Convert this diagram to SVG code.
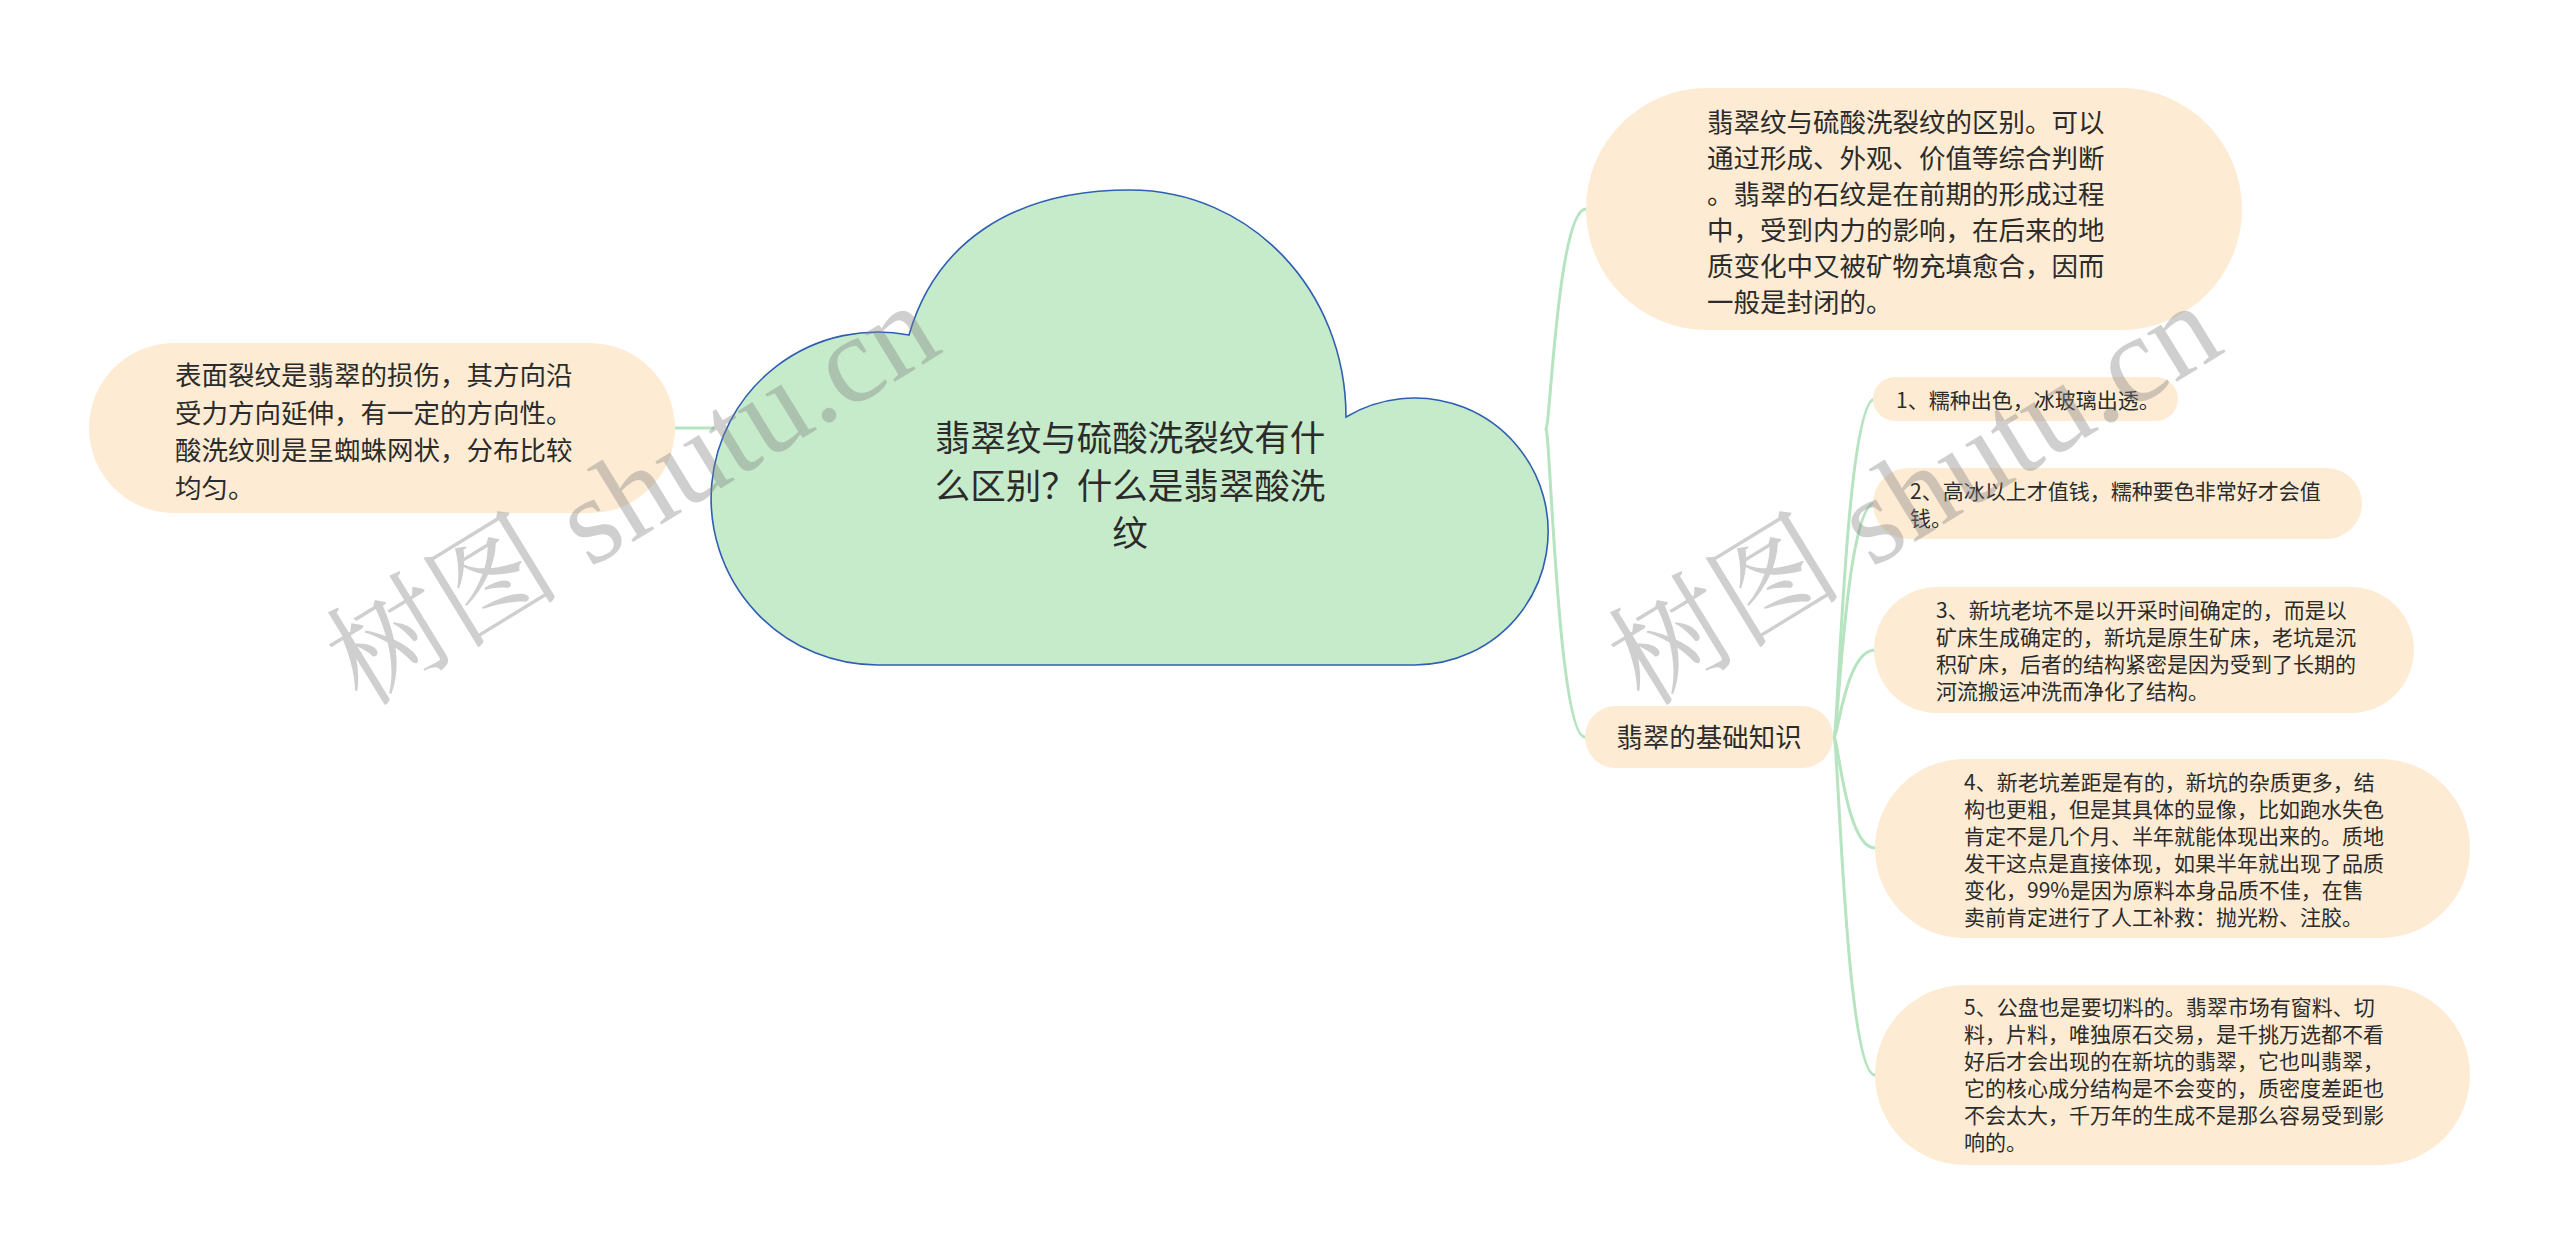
<svg xmlns="http://www.w3.org/2000/svg" width="2560" height="1255" viewBox="0 0 2560 1255">
<style>
.bg{fill:#ffffff}
.node{fill:#fdebd3}
.cloud{fill:#c6ebcb;stroke:#2f5fb3;stroke-width:1.6}
.t{font-family:"Noto Sans CJK SC","Noto Sans",sans-serif;fill:#2b2b2b}
.big{font-size:26.5px}
.small{font-size:21px}
.title{font-size:35.5px;text-anchor:middle}
.edge{fill:none;stroke:#b6e3c0;stroke-width:3;stroke-linecap:round}
.wm{font-family:"Liberation Serif","Noto Serif CJK SC","Noto Sans CJK SC",serif;fill:#808080;fill-opacity:0.38}
</style>
<rect class="bg" x="0" y="0" width="2560" height="1255"/>

<g id="connectors">
  <path class="edge" d="M 713,428 L 675,428"/>
  <path class="edge" d="M 1546,429 C 1550,429 1558,209 1586,209"/>
  <path class="edge" d="M 1546,429 C 1550,429 1558,737 1585,737"/>
  <path class="edge" d="M 1834,737 C 1838,737 1846,399 1875,399"/>
  <path class="edge" d="M 1834,737 C 1838,737 1846,503 1875,503"/>
  <path class="edge" d="M 1834,737 C 1838,737 1846,650 1875,650"/>
  <path class="edge" d="M 1834,737 C 1838,737 1846,848 1875,848"/>
  <path class="edge" d="M 1834,737 C 1838,737 1846,1075 1875,1075"/>
</g>

<g id="root">
  <path class="cloud" d="M 880,665 A 166.5,166.5 0 1 1 909,335 C 935,245 1010,190 1130,190 C 1250,190 1346,290 1346,417 A 133.5,133.5 0 1 1 1414,665 Z"/>
  <text class="t title"><tspan x="1130" y="451">翡翠纹与硫酸洗裂纹有什</tspan><tspan x="1130" y="498.5">么区别？什么是翡翠酸洗</tspan><tspan x="1130" y="546">纹</tspan></text>
</g>

<g id="left-node">
  <rect class="node" x="89" y="343" width="586" height="170" rx="85"/>
  <text class="t big"><tspan x="175" y="385">表面裂纹是翡翠的损伤，其方向沿</tspan><tspan x="175" y="422.5">受力方向延伸，有一定的方向性。</tspan><tspan x="175" y="460">酸洗纹则是呈蜘蛛网状，分布比较</tspan><tspan x="175" y="497.5">均匀。</tspan></text>
</g>

<g id="right-top-node">
  <rect class="node" x="1586" y="88" width="656" height="242" rx="121"/>
  <text class="t big"><tspan x="1707" y="132">翡翠纹与硫酸洗裂纹的区别。可以</tspan><tspan x="1707" y="168">通过形成、外观、价值等综合判断</tspan><tspan x="1707" y="204">。翡翠的石纹是在前期的形成过程</tspan><tspan x="1707" y="240">中，受到内力的影响，在后来的地</tspan><tspan x="1707" y="276">质变化中又被矿物充填愈合，因而</tspan><tspan x="1707" y="312">一般是封闭的。</tspan></text>
</g>

<g id="basics-node">
  <rect class="node" x="1585" y="706" width="248" height="62" rx="31"/>
  <text class="t big" x="1709" y="747" text-anchor="middle">翡翠的基础知识</text>
</g>

<g id="item-1">
  <rect class="node" x="1873" y="377" width="305" height="44" rx="22"/>
  <text class="t small" x="1896" y="408">1、糯种出色，冰玻璃出透。</text>
</g>

<g id="item-2">
  <rect class="node" x="1873" y="468" width="489" height="71" rx="35.5"/>
  <text class="t small"><tspan x="1910" y="499">2、高冰以上才值钱，糯种要色非常好才会值</tspan><tspan x="1910" y="526">钱。</tspan></text>
</g>

<g id="item-3">
  <rect class="node" x="1874" y="587" width="540" height="126" rx="63"/>
  <text class="t small"><tspan x="1936" y="618">3、新坑老坑不是以开采时间确定的，而是以</tspan><tspan x="1936" y="645">矿床生成确定的，新坑是原生矿床，老坑是沉</tspan><tspan x="1936" y="672">积矿床，后者的结构紧密是因为受到了长期的</tspan><tspan x="1936" y="699">河流搬运冲洗而净化了结构。</tspan></text>
</g>

<g id="item-4">
  <rect class="node" x="1875" y="759" width="595" height="179" rx="89.5"/>
  <text class="t small"><tspan x="1964" y="790">4、新老坑差距是有的，新坑的杂质更多，结</tspan><tspan x="1964" y="817">构也更粗，但是其具体的显像，比如跑水失色</tspan><tspan x="1964" y="844">肯定不是几个月、半年就能体现出来的。质地</tspan><tspan x="1964" y="871">发干这点是直接体现，如果半年就出现了品质</tspan><tspan x="1964" y="898">变化，99%是因为原料本身品质不佳，在售</tspan><tspan x="1964" y="925">卖前肯定进行了人工补救：抛光粉、注胶。</tspan></text>
</g>

<g id="item-5">
  <rect class="node" x="1875" y="985" width="595" height="180" rx="90"/>
  <text class="t small"><tspan x="1964" y="1015">5、公盘也是要切料的。翡翠市场有窗料、切</tspan><tspan x="1964" y="1042">料，片料，唯独原石交易，是千挑万选都不看</tspan><tspan x="1964" y="1069">好后才会出现的在新坑的翡翠，它也叫翡翠，</tspan><tspan x="1964" y="1096">它的核心成分结构是不会变的，质密度差距也</tspan><tspan x="1964" y="1123">不会太大，千万年的生成不是那么容易受到影</tspan><tspan x="1964" y="1150">响的。</tspan></text>
</g>

<g id="watermarks">
  <text class="wm" transform="translate(362,708) rotate(-31.5)"><tspan font-size="118">树图</tspan><tspan font-size="124"> shutu.cn</tspan></text>
  <text class="wm" transform="translate(1644,708) rotate(-31.5)"><tspan font-size="118">树图</tspan><tspan font-size="124"> shutu.cn</tspan></text>
</g>
</svg>
